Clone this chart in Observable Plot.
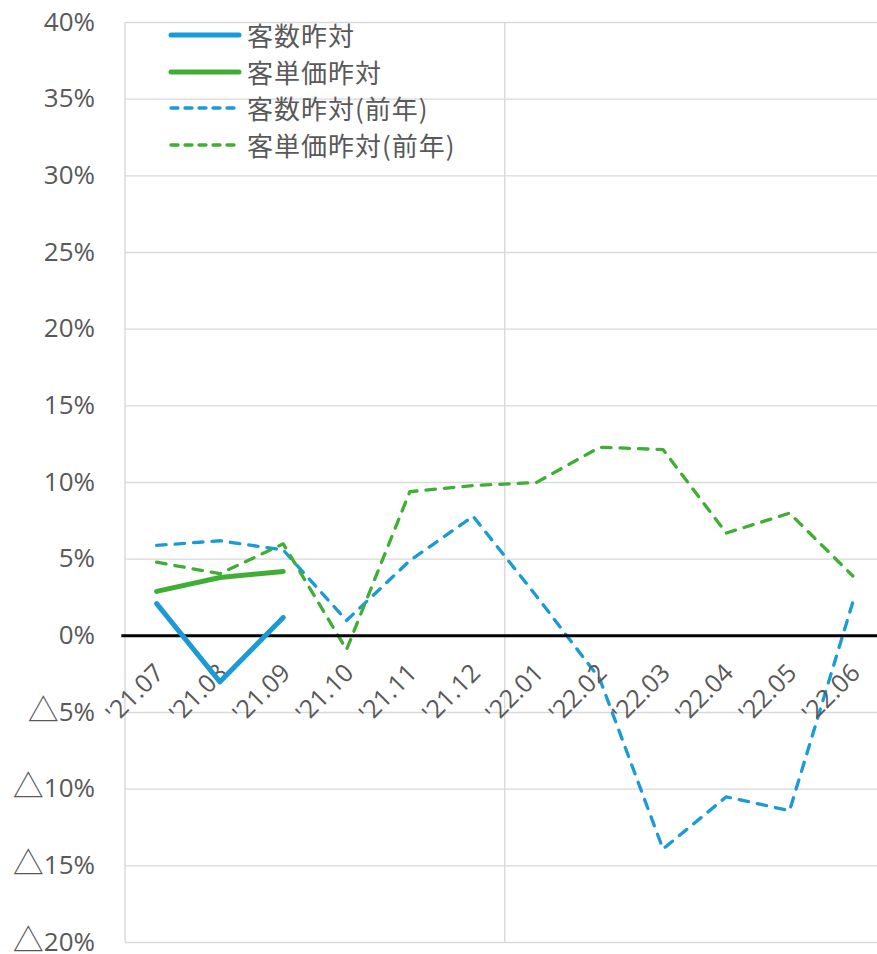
<!DOCTYPE html>
<html>
<head>
<meta charset="utf-8">
<script src="https://cdn.jsdelivr.net/npm/d3@7"></script>
<script src="https://cdn.jsdelivr.net/npm/@observablehq/plot@0.6"></script>
<style>
  html, body { margin: 0; padding: 0; background: #fff; }
  #wrap { position: relative; width: 877px; height: 954px; overflow: hidden; }
  #legend { position: absolute; left: 168px; top: 17px; font-family: "Noto Sans CJK JP", sans-serif; font-size: 26px; color: #595959; }
  .row { height: 36.5px; display: flex; align-items: center; }
  .row svg { width: 74px; height: 10px; margin-right: 5px; flex: none; }
  .row span { letter-spacing: 1px; line-height: 1; }
</style>
</head>
<body>
<div id="wrap"></div>
<script>
const months = ["'21.07","'21.08","'21.09","'21.10","'21.11","'21.12","'22.01","'22.02","'22.03","'22.04","'22.05","'22.06"];
const seriesNames = ["客数昨対","客単価昨対","客数昨対(前年)","客単価昨対(前年)"];
const seriesColors = ["#1a9bd7","#3fae35","#1a9bd7","#3fae35"];
const seriesDashed = [false, false, true, true];
// values in %
const kyakusu      = [2.1, -3.0, 1.2];
const tanka        = [2.9, 3.8, 4.2];
const kyakusuPrev  = [5.9, 6.2, 5.6, 1.0, 4.9, 7.8, 2.6, -2.8, -13.9, -10.5, -11.4, 2.2];
const tankaPrev    = [4.8, 4.05, 6.0, -0.9, 9.4, 9.8, 10.0, 12.3, 12.15, 6.7, 8.0, 3.9];
const yTicks = [40, 35, 30, 25, 20, 15, 10, 5, 0, -5, -10, -15, -20];
const yTickLabels = ["40%","35%","30%","25%","20%","15%","10%","5%","0%","△5%","△10%","△15%","△20%"];

const allSeries = [kyakusu, tanka, kyakusuPrev, tankaPrev];
const rows = [];
allSeries.forEach((vals, s) => vals.forEach((v, i) => rows.push({s, name: seriesNames[s], i, v})));

// vertical divider at the start of the period and at each new year
const dividers = months.map((m, i) => (i === 0 || m.endsWith(".01")) ? i - 0.5 : null).filter(d => d !== null);

const font = "'Open Sans', 'Noto Sans CJK JP', sans-serif";

const lineMarks = allSeries.map((vals, s) =>
  Plot.line(rows.filter(r => r.s === s), {
    x: "i", y: "v",
    stroke: seriesColors[s],
    strokeWidth: seriesDashed[s] ? 3.3 : 5,
    strokeDasharray: seriesDashed[s] ? "9.5,9" : null,
    strokeLinecap: "round",
    strokeLinejoin: "round"
  })
);

const chart = Plot.plot({
  width: 877,
  height: 954,
  marginTop: 22,
  marginBottom: 12,
  marginLeft: 125,
  marginRight: 0,
  x: {type: "linear", domain: [-0.5, months.length - 0.5], range: [124.5, 884], axis: null},
  y: {type: "linear", domain: [-20, 40], range: [942, 22], axis: null},
  style: {fontFamily: font, background: "transparent", overflow: "visible"},
  marks: [
    Plot.ruleY(yTicks, {stroke: "#d9d9d9", strokeWidth: 1.4}),
    Plot.ruleX(dividers, {stroke: "#d9d9d9", strokeWidth: 1.4}),
    Plot.text(yTicks, {x: -0.5, y: d => d, text: (d, i) => yTickLabels[i], textAnchor: "end", dx: -30, fontSize: 26, fill: "#595959"}),
    ...lineMarks.slice(2),
    Plot.ruleY([0], {stroke: "#000", strokeWidth: 3, x1: -0.55, x2: months.length - 0.5}),
    Plot.text(months, {x: (d, i) => i, y: 0, text: d => d, rotate: -45, textAnchor: "end", dx: 3, dy: 33, fontSize: 25, fill: "#595959"}),
    ...lineMarks.slice(0, 2)
  ]
});

// enlarge the △ sign (full-width glyph in the original)
d3.select(chart).selectAll("text").each(function() {
  const t = this.textContent;
  if (t.startsWith("△")) {
    const sel = d3.select(this);
    sel.text(null);
    sel.append("tspan").attr("font-size", 31).attr("font-family", "'Noto Sans CJK JP', sans-serif").text("△");
    sel.append("tspan").text(t.slice(1));
  }
});

const wrap = document.getElementById("wrap");
wrap.appendChild(chart);

const legend = document.createElement("div");
legend.id = "legend";
seriesNames.forEach((name, s) => {
  const row = document.createElement("div");
  row.className = "row";
  const dash = seriesDashed[s] ? 'stroke-dasharray="7,7"' : "";
  const w = seriesDashed[s] ? 3.3 : 5;
  row.innerHTML = `<svg viewBox="0 0 74 10"><line x1="3" y1="5" x2="71" y2="5" stroke="${seriesColors[s]}" stroke-width="${w}" stroke-linecap="round" ${dash}/></svg><span>${name}</span>`;
  legend.appendChild(row);
});
wrap.appendChild(legend);
</script>
</body>
</html>
